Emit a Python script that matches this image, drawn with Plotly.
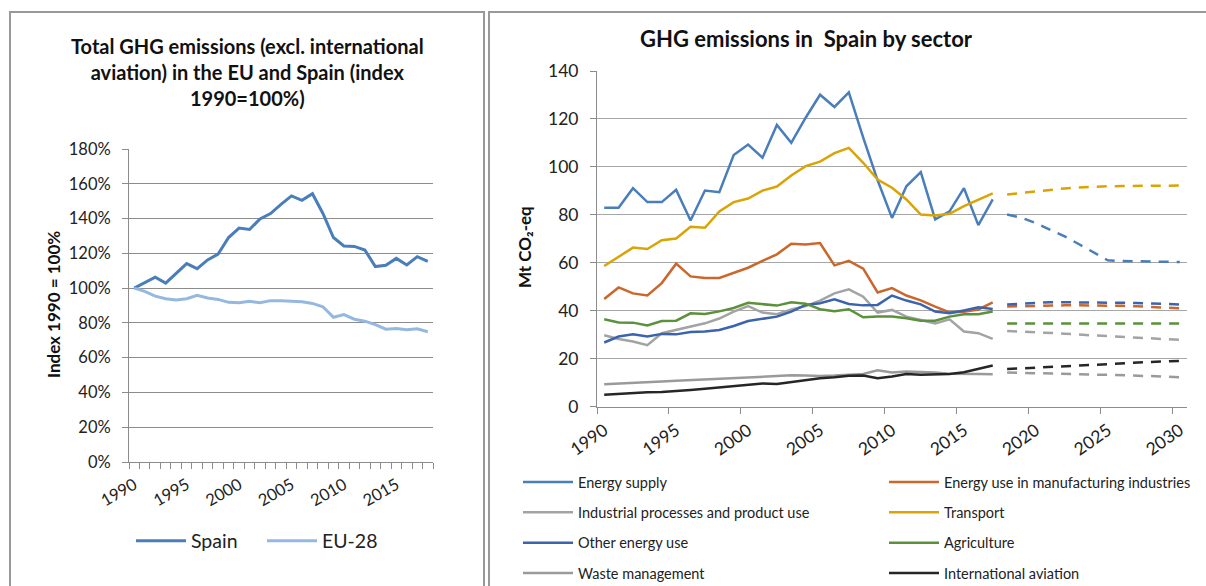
import plotly.graph_objects as go

# ---------------- data ----------------
years_hist_total = list(range(1990, 2019))
spain_index = [100, 103.2, 106.3, 102.9, 108.6, 114.1, 111.2, 116.2, 119.6, 129.1, 134.5, 133.7, 139.8, 142.9,
               148.2, 153.0, 150.5, 154.3, 142.9, 129.1, 124.2, 124.0, 121.9, 112.4, 113.1, 117.1, 113.3, 118.1, 115.4]
eu28_index = [100, 98.1, 95.4, 93.9, 93.1, 93.9, 95.8, 94.3, 93.5, 91.8, 91.6, 92.4, 91.6, 92.8,
              92.8, 92.4, 92.2, 91.2, 89.3, 83.2, 84.8, 82.1, 81.0, 79.0, 76.4, 76.8, 76.0, 76.6, 74.9]
left_tick_years = [1990, 1995, 2000, 2005, 2010, 2015]

years_hist = list(range(1990, 2018))
years_proj = list(range(2018, 2031))
right_tick_years = [1990, 1995, 2000, 2005, 2010, 2015, 2020, 2025, 2030]

energy_supply = [82.9, 82.9, 91.1, 85.3, 85.3, 90.4, 77.6, 90.1, 89.4, 104.9, 109.3, 103.8, 117.5, 110.0,
                 120.5, 130.1, 125.0, 131.1, 112.2, 94.4, 78.7, 91.9, 97.8, 78.1, 81.4, 91.1, 75.7, 86.4]
manufacturing = [44.9, 49.7, 47.2, 46.3, 51.5, 59.6, 54.3, 53.6, 53.6, 55.6, 57.9, 60.8, 63.5, 67.9,
                 67.6, 68.2, 58.9, 60.8, 57.5, 47.6, 49.4, 46.3, 44.3, 41.7, 39.3, 39.5, 40.5, 43.5]
industrial = [29.7, 28.2, 27.1, 25.6, 30.6, 31.9, 33.1, 34.7, 36.7, 39.6, 41.9, 39.2, 38.5, 40.5,
              41.9, 44.2, 47.2, 48.9, 45.8, 39.2, 40.3, 37.5, 36.1, 34.7, 36.4, 31.3, 30.6, 28.2]
transport = [58.6, 62.4, 66.3, 65.7, 69.4, 70.1, 75.0, 74.6, 81.4, 85.3, 86.8, 90.1, 91.8, 96.4,
             100.3, 102.2, 105.7, 107.9, 101.7, 94.7, 91.3, 86.4, 80.1, 79.7, 80.4, 83.6, 86.4, 88.9]
other_energy = [26.7, 29.2, 30.1, 29.2, 30.3, 30.1, 31.1, 31.3, 31.9, 33.6, 35.7, 36.7, 37.5, 39.6,
                42.4, 43.1, 44.7, 42.8, 42.2, 42.4, 46.3, 44.2, 42.6, 39.6, 38.9, 40.1, 41.4, 40.7]
agriculture = [36.4, 35.1, 35.0, 33.8, 35.7, 35.8, 38.9, 38.6, 39.7, 41.1, 43.3, 42.8, 42.1, 43.5,
               42.9, 40.6, 39.7, 40.6, 37.2, 37.6, 37.6, 36.8, 35.8, 35.8, 37.5, 38.5, 38.5, 39.6]
waste = [9.3, 9.5, 9.8, 10.1, 10.4, 10.7, 11.0, 11.3, 11.7, 12.0, 12.3, 12.5, 12.8, 13.0,
         12.9, 12.7, 12.9, 13.2, 13.6, 15.1, 14.2, 14.6, 14.5, 14.2, 13.7, 13.8, 13.6, 13.5]
aviation = [4.9, 5.3, 5.7, 5.9, 6.0, 6.3, 6.9, 7.4, 7.9, 8.5, 9.2, 9.6, 9.4, 10.2,
            11.2, 11.8, 12.2, 12.8, 12.9, 11.8, 12.5, 13.6, 13.2, 13.3, 13.6, 14.3, 15.8, 17.1]

energy_supply_proj = [80.1, 78.8, 76.5, 73.9, 71.0, 67.7, 64.3, 61.0, 60.7, 60.6, 60.5, 60.4, 60.3]
manufacturing_proj = [41.7, 41.9, 42.1, 42.2, 42.2, 42.2, 42.2, 42.2, 42.0, 41.8, 41.6, 41.3, 41.0]
industrial_proj = [31.5, 31.3, 31.0, 30.7, 30.4, 30.0, 29.7, 29.4, 29.1, 28.8, 28.5, 28.1, 27.8]
transport_proj = [88.5, 89.2, 89.9, 90.4, 91.0, 91.4, 91.8, 91.9, 92.0, 92.1, 92.1, 92.2, 92.2]
other_energy_proj = [42.6, 43.0, 43.3, 43.5, 43.5, 43.5, 43.5, 43.5, 43.4, 43.2, 43.0, 42.8, 42.6]
agriculture_proj = [34.6, 34.6, 34.6, 34.6, 34.6, 34.6, 34.6, 34.6, 34.6, 34.6, 34.6, 34.6, 34.6]
waste_proj = [14.2, 14.0, 13.8, 13.7, 13.6, 13.4, 13.3, 13.2, 13.1, 12.9, 12.7, 12.5, 12.2]
aviation_proj = [15.6, 15.9, 16.3, 16.6, 17.0, 17.4, 17.7, 17.9, 18.2, 18.4, 18.6, 18.8, 19.0]

sector_names = ["Energy supply", "Energy use in manufacturing industries",
                "Industrial processes and product use", "Transport",
                "Other energy use", "Agriculture", "Waste management", "International aviation"]
sector_hist = [energy_supply, manufacturing, industrial, transport, other_energy, agriculture, waste, aviation]
sector_proj = [energy_supply_proj, manufacturing_proj, industrial_proj, transport_proj,
               other_energy_proj, agriculture_proj, waste_proj, aviation_proj]
sector_colors = ["#4A7EBB", "#CB672C", "#A3A3A3", "#D9A404", "#3B63AE", "#5A913A", "#9A9A9A", "#262626"]
sector_legend = ["legend2", "legend3", "legend2", "legend3", "legend2", "legend3", "legend2", "legend3"]

# ---------------- layout helpers ----------------
W, H = 1206, 586
FONT = "Lato"


def fx(x):
    return x / W


def fy(y):
    return 1 - y / H


fig = go.Figure()

# left chart
fig.add_trace(go.Scatter(x=years_hist_total, y=[v / 100 for v in spain_index], mode="lines", name="Spain",
                         line=dict(color="#4A7EBB", width=3), xaxis="x", yaxis="y", legend="legend"))
fig.add_trace(go.Scatter(x=years_hist_total, y=[v / 100 for v in eu28_index], mode="lines", name="EU-28",
                         line=dict(color="#95B8E0", width=3), xaxis="x", yaxis="y", legend="legend"))

# right chart
for i, name in enumerate(sector_names):
    fig.add_trace(go.Scatter(x=years_hist, y=sector_hist[i], mode="lines", name=name,
                             line=dict(color=sector_colors[i], width=2.5),
                             xaxis="x2", yaxis="y2", legend=sector_legend[i], legendgroup=name))
for i, name in enumerate(sector_names):
    fig.add_trace(go.Scatter(x=years_proj, y=sector_proj[i], mode="lines", name=name + " (projection)",
                             line=dict(color=sector_colors[i], width=2.5, dash="10px,8px"),
                             xaxis="x2", yaxis="y2", showlegend=False))

axis_line = dict(showline=True, linecolor="#8C8C8C", linewidth=1, zeroline=False)

fig.update_layout(
    width=W, height=H, margin=dict(l=0, r=0, t=0, b=0, autoexpand=False),
    paper_bgcolor="white", plot_bgcolor="white",
    font=dict(family=FONT, color="#222"),
    xaxis=dict(domain=[fx(129), fx(433)], anchor="y", range=[1989.5, 2018.5],
               tickvals=left_tick_years, ticktext=[str(v) for v in left_tick_years],
               tickangle=-30, ticks="outside", ticklen=0, tickcolor="#8C8C8C",
               ticklabelstandoff=6, tickfont=dict(family=FONT, size=16.5, color="#222"),
               minor=dict(ticks="outside", tick0=1989.5, dtick=1, ticklen=6, tickcolor="#8C8C8C",
                          tickwidth=1, showgrid=False),
               showgrid=False, **axis_line),
    yaxis=dict(domain=[fy(462), fy(149)], anchor="x", range=[0, 1.8],
               tickvals=[0, 0.2, 0.4, 0.6, 0.8, 1.0, 1.2, 1.4, 1.6, 1.8], tickformat=".0%",
               ticks="outside", ticklen=6, tickcolor="#8C8C8C", ticklabelstandoff=8,
               tickfont=dict(family=FONT, size=16.5, color="#222"),
               showgrid=True, gridcolor="#8C8C8C", gridwidth=1, **axis_line),
    xaxis2=dict(domain=[fx(597), fx(1187)], anchor="y2", range=[1989.5, 2030.5],
                tickvals=right_tick_years, ticktext=[str(v) for v in right_tick_years],
                tickangle=-35, ticks="outside", ticklen=0, tickcolor="#8C8C8C",
                ticklabelstandoff=6, tickfont=dict(family=FONT, size=17.5, color="#222"),
                minor=dict(ticks="outside", tick0=1989.5, dtick=5, ticklen=6, tickcolor="#8C8C8C",
                           tickwidth=1, showgrid=False),
                showgrid=False, **axis_line),
    yaxis2=dict(domain=[fy(406.5), fy(71)], anchor="x2", range=[0, 140], dtick=20,
                ticks="outside", ticklen=6, tickcolor="#8C8C8C", ticklabelstandoff=8,
                tickfont=dict(family=FONT, size=17.5, color="#222"),
                showgrid=True, gridcolor="#A6A6A6", gridwidth=1, **axis_line),
    legend=dict(orientation="h", x=fx(131), y=fy(541), xanchor="left", yanchor="middle",
                font=dict(family=FONT, size=19.5, color="#222"), bgcolor="rgba(0,0,0,0)",
                itemwidth=50, entrywidth=66, borderwidth=0),
    legend2=dict(orientation="v", x=fx(518), y=fy(466), xanchor="left", yanchor="top",
                 font=dict(family=FONT, size=14.5, color="#222"), bgcolor="rgba(0,0,0,0)",
                 tracegroupgap=8.5, itemwidth=50, borderwidth=0),
    legend3=dict(orientation="v", x=fx(884), y=fy(466), xanchor="left", yanchor="top",
                 font=dict(family=FONT, size=14.5, color="#222"), bgcolor="rgba(0,0,0,0)",
                 tracegroupgap=8.5, itemwidth=50, borderwidth=0),
    shapes=[
        dict(type="rect", xref="paper", yref="paper", x0=fx(10), x1=fx(484), y0=fy(600), y1=fy(12),
             line=dict(color="#999999", width=2), layer="below"),
        dict(type="rect", xref="paper", yref="paper", x0=fx(489), x1=fx(1215), y0=fy(600), y1=fy(12),
             line=dict(color="#999999", width=2), layer="below"),
    ],
    annotations=[
        dict(text="<b>Total GHG emissions (excl. international<br>aviation) in the EU and Spain (index<br>1990=100%)</b>",
             xref="paper", yref="paper", x=fx(247), y=fy(72), xanchor="center", yanchor="middle",
             showarrow=False, font=dict(family=FONT, size=20, color="#111")),
        dict(text="<b>GHG emissions in  Spain by sector</b>",
             xref="paper", yref="paper", x=fx(806), y=fy(39), xanchor="center", yanchor="middle",
             showarrow=False, font=dict(family=FONT, size=22, color="#111")),
        dict(text="<b>Index 1990 = 100%</b>", textangle=-90,
             xref="paper", yref="paper", x=fx(53), y=fy(305), xanchor="center", yanchor="middle",
             showarrow=False, font=dict(family=FONT, size=17, color="#111")),
        dict(text="<b>Mt CO₂-eq</b>", textangle=-90,
             xref="paper", yref="paper", x=fx(525), y=fy(247), xanchor="center", yanchor="middle",
             showarrow=False, font=dict(family=FONT, size=17, color="#111")),
    ],
)

fig.write_html("out.html", config={"displayModeBar": False},
               post_script="document.body.style.margin='0';document.body.style.padding='0';")
